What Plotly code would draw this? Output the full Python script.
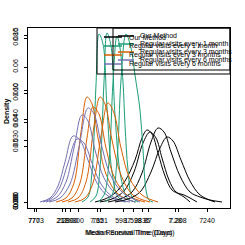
import plotly.graph_objects as go

FONT = "Liberation Sans, Arial, sans-serif"
BLACK = "#000000"
GREEN = "#1B9E77"
ORANGE = "#D95F02"
PURPLE = "#7570B3"

# ---- density curves (x in days, y density), four overlaid panels ----
black_x = [
    [950, 1050, 1150, 1250, 1350, 1420, 1470, 1520, 1580, 1650, 1720, 1790, 1840, 1900],
    [1000, 1120, 1240, 1340, 1430, 1500, 1560, 1620, 1690, 1760, 1840, 1900, 1970],
    [1080, 1200, 1320, 1420, 1510, 1580, 1640, 1710, 1800, 1900, 2000, 2100, 2220],
    [1150, 1280, 1400, 1510, 1600, 1670, 1730, 1810, 1900, 1990, 2070, 2150],
]
black_y = [
    [0, .0027, .0081, .0189, .0378, .0576, .0648, .0612, .0441, .0234, .0108, .0072, .0045, 0],
    [0, .0027, .0099, .027, .0531, .063, .0576, .0396, .0198, .009, .0063, .0036, 0],
    [0, .0027, .009, .0261, .054, .0666, .063, .045, .0234, .009, .0045, .0018, 0],
    [0, .0027, .009, .027, .0486, .0585, .0549, .0378, .0189, .0072, .0027, 0],
]
green_x = [
    [820, 880, 920, 960, 990, 1030, 1070, 1120, 1180, 1260],
    [900, 960, 1000, 1040, 1070, 1110, 1150, 1210, 1280, 1360],
    [980, 1040, 1090, 1130, 1170, 1200, 1230, 1250, 1280, 1320, 1380],
    [1050, 1120, 1170, 1210, 1260, 1310, 1350, 1400, 1430, 1460, 1490, 1530],
]
green_y = [
    [0, .0045, .027, .1053, .1512, .1422, .0846, .027, .0045, 0],
    [0, .0054, .0306, .108, .1521, .1404, .0783, .0216, .0027, 0],
    [0, .0063, .036, .108, .1494, .1386, .108, .0693, .0288, .0045, 0],
    [0, .0063, .0378, .1098, .1512, .1386, .1143, .0828, .0468, .0108, .0018, 0],
]
orange_x = [
    [560, 660, 740, 810, 870, 920, 980, 1060, 1180, 1350],
    [620, 720, 800, 870, 930, 990, 1060, 1150, 1270, 1450],
    [680, 780, 860, 940, 1000, 1050, 1120, 1210, 1330, 1500],
    [750, 850, 930, 1010, 1080, 1140, 1210, 1300, 1420, 1580],
]
orange_y = [
    [0, .0036, .0171, .063, .0945, .0882, .0576, .0252, .0072, 0],
    [0, .0036, .0171, .0576, .0855, .0792, .0486, .0207, .0063, 0],
    [0, .0036, .018, .0684, .0945, .0882, .0558, .0243, .0063, 0],
    [0, .0036, .0171, .0594, .0891, .0801, .0486, .0207, .0063, 0],
]
purple_x = [
    [400, 500, 580, 650, 730, 800, 880, 970, 1080, 1250],
    [430, 520, 600, 680, 770, 840, 920, 1010, 1130, 1300],
    [460, 570, 660, 740, 820, 880, 950, 1040, 1160, 1350],
    [490, 600, 700, 790, 880, 940, 1010, 1100, 1220, 1400],
]
purple_y = [
    [0, .0036, .0144, .036, .0594, .0558, .0378, .0171, .0054, 0],
    [0, .0036, .0135, .0351, .0567, .0531, .0351, .0162, .0045, 0],
    [0, .0045, .018, .0486, .0783, .0729, .0468, .0216, .0072, 0],
    [0, .0036, .0162, .0495, .0846, .0792, .0531, .0252, .009, 0],
]

# ---- tick labels of the four overlaid panels ----
x_tickvals = [
    [340, 650, 970, 1330, 1750, 2070],
    [360, 700, 1000, 1420, 1780],
    [620, 1230],
    [780, 1480],
]
x_ticktext = [
    ["777", "2189", "7.65", "1.598", "7.28", "7240"],
    ["7703", "2300", "7321", "2835", "7.208"],
    ["217", "5987"],
    ["300", "87"],
]
y_tickvals = [
    [0, 0.05, 0.10, 0.15],
    [0, 0.0747, 0.1476],
    [0, 0.072, 0.1215],
    [0, 0.0558, 0.0981],
]
y_ticktext = [
    ["0.00", "0.05", "0.10", "0.15"],
    ["0.000", "0.040", "0.080"],
    ["0.00", "0.04", "0.06"],
    ["0.000", "0.030", "0.060"],
]

legend_labels = ["Our Method", "Regular visits every 1 month",
                 "Regular visits every 3 months", "Regular visits every 6 months"]
legend_colors = [BLACK, GREEN, ORANGE, PURPLE]
x_titles = ["Median Survival Time (Days)", "Mean Renewal Time (Days)"]

X_RANGE = [280, 2300]
Y_RANGE = [-0.0054, 0.1566]

fig = go.Figure()
for k in range(4):
    xa = "x" if k == 0 else f"x{k+1}"
    ya = "y" if k == 0 else f"y{k+1}"
    for xs, ys, col in [(black_x, black_y, BLACK), (green_x, green_y, GREEN),
                        (orange_x, orange_y, ORANGE), (purple_x, purple_y, PURPLE)]:
        fig.add_trace(go.Scatter(x=xs[k], y=ys[k], mode="lines",
                                 line=dict(color=col, width=1, shape="spline"),
                                 xaxis=xa, yaxis=ya, showlegend=False,
                                 hoverinfo="skip"))

tickfont = dict(size=7, color="black", family=FONT)
layout = dict(
    width=245, height=245,
    margin=dict(l=28, r=15, t=28, b=37, autoexpand=False),
    paper_bgcolor="white", plot_bgcolor="white",
    showlegend=False,
)
for k in range(4):
    xkey = "xaxis" if k == 0 else f"xaxis{k+1}"
    ykey = "yaxis" if k == 0 else f"yaxis{k+1}"
    xd = dict(range=X_RANGE, showgrid=False, zeroline=False, ticks="outside",
              ticklen=3, tickwidth=1, tickcolor="black", tickfont=tickfont,
              tickmode="array", tickvals=x_tickvals[k], ticktext=x_ticktext[k],
              tickangle=0, ticklabelstandoff=3, automargin=False,
              fixedrange=True)
    yd = dict(range=Y_RANGE, showgrid=False, zeroline=False, ticks="outside",
              ticklen=3, tickwidth=1, tickcolor="black", tickfont=tickfont,
              tickmode="array", tickvals=y_tickvals[k], ticktext=y_ticktext[k],
              tickangle=-90, ticklabelstandoff=3, automargin=False,
              fixedrange=True)
    if k == 0:
        xd.update(showline=True, mirror=True, linecolor="black", linewidth=1)
        yd.update(showline=True, mirror=True, linecolor="black", linewidth=1)
    else:
        xd.update(overlaying="x", anchor=f"y{k+1}", showline=False)
        yd.update(overlaying="y", anchor=f"x{k+1}", showline=False)
    layout[xkey] = xd
    layout[ykey] = yd
fig.update_layout(**layout)


def px_x(p):
    return (p - 28) / 202


def px_y(p):
    return (208 - p) / 180


# two overlapping legend boxes (as in the overlaid original)
legends = [
    dict(box=(97, 28, 230, 74), line=(104, 122), text_x=127, rows=[37, 46, 55, 64]),
    dict(box=(113, 28, 230, 70), line=(118, 134), text_x=138, rows=[36, 44, 52, 60]),
]
for lg in legends:
    bx0, by0, bx1, by1 = lg["box"]
    fig.add_shape(type="rect", xref="paper", yref="paper",
                  x0=px_x(bx0), x1=px_x(bx1), y0=px_y(by1), y1=px_y(by0),
                  line=dict(color="black", width=1), fillcolor="rgba(0,0,0,0)")
    for lab, col, r in zip(legend_labels, legend_colors, lg["rows"]):
        fig.add_shape(type="line", xref="paper", yref="paper",
                      x0=px_x(lg["line"][0]), x1=px_x(lg["line"][1]),
                      y0=px_y(r), y1=px_y(r), line=dict(color=col, width=1.5))
        fig.add_annotation(xref="paper", yref="paper", x=px_x(lg["text_x"]),
                           y=px_y(r), text=lab, showarrow=False,
                           xanchor="left", yanchor="middle",
                           font=dict(size=7, color="black", family=FONT))

for t in x_titles:
    fig.add_annotation(xref="paper", yref="paper", x=px_x(129), y=px_y(233),
                       text=t, showarrow=False, xanchor="center", yanchor="middle",
                       font=dict(size=7, color="black", family=FONT))
fig.add_annotation(xref="paper", yref="paper", x=px_x(7), y=px_y(112),
                   text="<b>Density</b>", showarrow=False, textangle=-90,
                   xanchor="center", yanchor="middle",
                   font=dict(size=7, color="black", family=FONT))

fig.write_html(
    "out.html",
    config={"displayModeBar": False, "staticPlot": True},
    post_script="document.body.style.margin='0px';document.body.style.overflow='hidden';",
)
